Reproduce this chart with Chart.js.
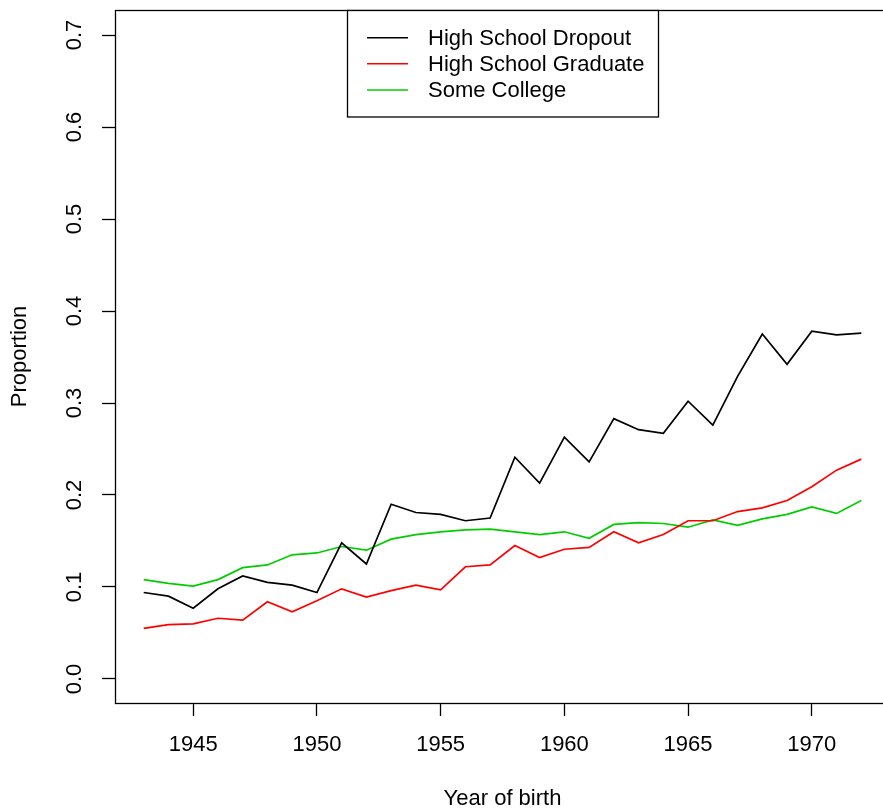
<!DOCTYPE html>
<html>
<head>
<meta charset="utf-8">
<style>
  html, body { margin: 0; padding: 0; overflow: hidden; background: #ffffff; }
  canvas { display: block; }
</style>
<script src="https://cdn.jsdelivr.net/npm/chart.js@4.4.1/dist/chart.umd.min.js"></script>
</head>
<body>
<canvas id="chart" width="891" height="812"></canvas>
<script>
// Birth cohorts 1943-1972
const years = [1943, 1944, 1945, 1946, 1947, 1948, 1949, 1950, 1951, 1952,
               1953, 1954, 1955, 1956, 1957, 1958, 1959, 1960, 1961, 1962,
               1963, 1964, 1965, 1966, 1967, 1968, 1969, 1970, 1971, 1972];

// Proportion by education group
const dropout = [0.094, 0.090, 0.077, 0.098, 0.112, 0.105, 0.102, 0.094, 0.148, 0.125,
                 0.190, 0.181, 0.179, 0.172, 0.175, 0.241, 0.213, 0.263, 0.236, 0.283,
                 0.271, 0.267, 0.302, 0.276, 0.329, 0.375, 0.342, 0.378, 0.374, 0.376];
const graduate = [0.055, 0.059, 0.060, 0.066, 0.064, 0.084, 0.073, 0.085, 0.098, 0.089,
                  0.096, 0.102, 0.097, 0.122, 0.124, 0.145, 0.132, 0.141, 0.143, 0.160,
                  0.148, 0.157, 0.172, 0.172, 0.182, 0.186, 0.194, 0.209, 0.227, 0.239];
const college = [0.108, 0.104, 0.101, 0.108, 0.121, 0.124, 0.135, 0.137, 0.144, 0.140,
                 0.152, 0.157, 0.160, 0.162, 0.163, 0.160, 0.157, 0.160, 0.153, 0.168,
                 0.170, 0.169, 0.165, 0.173, 0.167, 0.174, 0.179, 0.187, 0.180, 0.194];

const seriesNames = ['High School Dropout', 'High School Graduate', 'Some College'];
const seriesColors = ['#000000', '#FF0000', '#00CD00'];

// Axis ticks
const xTicks = [1945, 1950, 1955, 1960, 1965, 1970];
const yTicks = [0.0, 0.1, 0.2, 0.3, 0.4, 0.5, 0.6, 0.7];

const FONT = '"Liberation Sans", Arial, Helvetica, sans-serif';
const FONT_SIZE = 22;

function toPoints(values) {
  return years.map((yr, i) => ({ x: yr, y: values[i] }));
}

// Frame around the plotting region
const frameBox = {
  id: 'frameBox',
  afterDatasetsDraw(chart) {
    const { ctx, chartArea: a } = chart;
    ctx.save();
    ctx.strokeStyle = '#000000';
    ctx.lineWidth = 1.3;
    ctx.strokeRect(a.left + 0.5, a.top + 0.5, a.right - a.left, a.bottom - a.top);
    ctx.restore();
  }
};

// Boxed key in the top-centre of the plot
const boxedKey = {
  id: 'boxedKey',
  afterDraw(chart) {
    const { ctx } = chart;
    const box = { x: 347.5, y: 10.5, w: 311, h: 106.5 };
    const rowsY = [37.7, 63.8, 90];
    ctx.save();
    ctx.fillStyle = '#ffffff';
    ctx.fillRect(box.x, box.y, box.w, box.h);
    ctx.strokeStyle = '#000000';
    ctx.lineWidth = 1.3;
    ctx.strokeRect(box.x, box.y, box.w, box.h);
    ctx.font = FONT_SIZE + 'px ' + FONT;
    ctx.textBaseline = 'middle';
    ctx.textAlign = 'left';
    chart.data.datasets.forEach((ds, i) => {
      const y = rowsY[i];
      ctx.strokeStyle = ds.borderColor;
      ctx.lineWidth = 1.6;
      ctx.beginPath();
      ctx.moveTo(367, y);
      ctx.lineTo(408, y);
      ctx.stroke();
      ctx.fillStyle = '#000000';
      ctx.fillText(ds.label, 428, y + 1);
    });
    ctx.restore();
  }
};

new Chart(document.getElementById('chart'), {
  type: 'line',
  data: {
    datasets: [
      { label: seriesNames[0], data: toPoints(dropout), borderColor: seriesColors[0] },
      { label: seriesNames[1], data: toPoints(graduate), borderColor: seriesColors[1] },
      { label: seriesNames[2], data: toPoints(college), borderColor: seriesColors[2] }
    ]
  },
  options: {
    responsive: false,
    animation: false,
    devicePixelRatio: 1,
    layout: { padding: { top: 10, right: 1, left: 0, bottom: 0 } },
    elements: {
      line: { borderWidth: 1.7, tension: 0, fill: false },
      point: { radius: 0, hoverRadius: 0 }
    },
    plugins: {
      legend: { display: false },
      tooltip: { enabled: false }
    },
    scales: {
      x: {
        type: 'linear',
        min: 1941.84,
        max: 1973.16,
        afterBuildTicks(scale) { scale.ticks = xTicks.map(v => ({ value: v })); },
        afterFit(scale) {
          scale.height = 109;
          scale.paddingLeft = 0;
          scale.paddingRight = 0;
        },
        border: { display: false },
        grid: {
          drawOnChartArea: false,
          drawTicks: true,
          tickLength: 13,
          tickColor: '#000000',
          tickWidth: 1.3
        },
        ticks: {
          color: '#000000',
          font: { family: FONT, size: FONT_SIZE },
          padding: 16,
          maxRotation: 0,
          minRotation: 0,
          autoSkip: false,
          callback: v => String(v)
        },
        title: {
          display: true,
          text: 'Year of birth',
          color: '#000000',
          font: { family: FONT, size: FONT_SIZE },
          padding: { top: 0, bottom: 0 }
        }
      },
      y: {
        type: 'linear',
        min: -0.0261,
        max: 0.7272,
        afterBuildTicks(scale) { scale.ticks = yTicks.map(v => ({ value: v })); },
        afterFit(scale) {
          scale.width = 115;
          scale.paddingTop = 0;
          scale.paddingBottom = 0;
        },
        border: { display: false },
        grid: {
          drawOnChartArea: false,
          drawTicks: true,
          tickLength: 13,
          tickColor: '#000000',
          tickWidth: 1.3
        },
        ticks: {
          color: '#000000',
          font: { family: FONT, size: FONT_SIZE },
          padding: 12,
          minRotation: 90,
          maxRotation: 90,
          crossAlign: 'center',
          autoSkip: false,
          callback: v => v.toFixed(1)
        },
        title: {
          display: true,
          text: 'Proportion',
          color: '#000000',
          font: { family: FONT, size: FONT_SIZE },
          padding: { top: 7, bottom: 0 }
        }
      }
    }
  },
  plugins: [frameBox, boxedKey]
});
</script>
</body>
</html>
